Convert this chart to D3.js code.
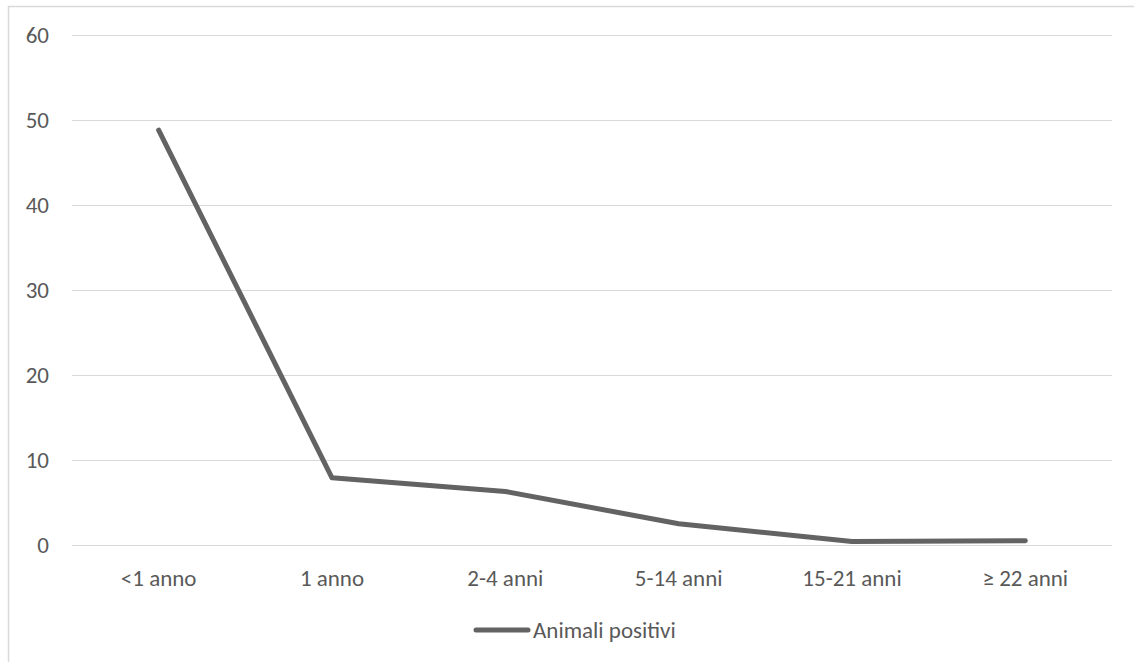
<!DOCTYPE html>
<html>
<head>
<meta charset="utf-8">
<title>Animali positivi</title>
<style>
body { margin: 0; background: #fff; }
text {
  font-family: Carlito, Calibri, Lato, "Liberation Sans", sans-serif;
  fill: #595959;
}
.grid line { stroke: #d9d9d9; stroke-width: 1px; }
</style>
</head>
<body>
<script src="https://cdn.jsdelivr.net/npm/d3@7"></script>
<script>
// age classes and positive animals
var categories = ["<1 anno", "1 anno", "2-4 anni", "5-14 anni", "15-21 anni", "\u2265 22 anni"];
var values = [48.8, 7.9, 6.3, 2.5, 0.4, 0.5];
var yTicks = [0, 10, 20, 30, 40, 50, 60];
var seriesName = "Animali positivi";

var width = 1134,
    height = 662;

var margin = {left: 72, right: 22, top: 35, bottom: 117};
var fontSize = "23px";

var svg = d3.select("body").append("svg")
  .attr("width", width)
  .attr("height", height);

// chart area border
svg.append("rect")
  .attr("x", 8.5)
  .attr("y", 6.5)
  .attr("width", 1140)
  .attr("height", 700)
  .attr("fill", "none")
  .attr("stroke", "#d9d9d9")
  .attr("stroke-width", 1.5);

var x = d3.scaleBand()
  .domain(categories)
  .range([margin.left, width - margin.right]);

var y = d3.scaleLinear()
  .domain([0, 60])
  .range([height - margin.bottom, margin.top]);

// horizontal gridlines
svg.append("g")
  .attr("class", "grid")
  .selectAll("line")
  .data(yTicks)
  .enter().append("line")
  .attr("x1", margin.left)
  .attr("x2", width - margin.right)
  .attr("y1", function(d) { return Math.round(y(d)) + 0.5; })
  .attr("y2", function(d) { return Math.round(y(d)) + 0.5; });

// y labels
svg.append("g")
  .selectAll("text")
  .data(yTicks)
  .enter().append("text")
  .attr("x", 49)
  .attr("y", function(d) { return y(d); })
  .attr("dy", "0.35em")
  .attr("text-anchor", "end")
  .style("font-size", fontSize)
  .text(function(d) { return d; });

// x labels
svg.append("g")
  .selectAll("text")
  .data(categories)
  .enter().append("text")
  .attr("x", function(d) { return x(d) + x.bandwidth() / 2; })
  .attr("y", y(0) + 33)
  .attr("dy", "0.35em")
  .attr("text-anchor", "middle")
  .style("font-size", fontSize)
  .text(function(d) { return d; });

var line = d3.line()
  .x(function(d, i) { return x(categories[i]) + x.bandwidth() / 2; })
  .y(function(d) { return y(d); });

svg.append("path")
  .datum(values)
  .attr("d", line)
  .attr("fill", "none")
  .attr("stroke", "#636363")
  .attr("stroke-width", 5)
  .attr("stroke-linejoin", "round")
  .attr("stroke-linecap", "round");

// legend
var legend = svg.append("g")
  .attr("transform", "translate(476,630)");

legend.append("line")
  .attr("x1", 0)
  .attr("x2", 52)
  .attr("stroke", "#636363")
  .attr("stroke-width", 5)
  .attr("stroke-linecap", "round");

legend.append("text")
  .attr("x", 57)
  .attr("dy", "0.35em")
  .style("font-size", fontSize)
  .text(seriesName);
</script>
</body>
</html>
